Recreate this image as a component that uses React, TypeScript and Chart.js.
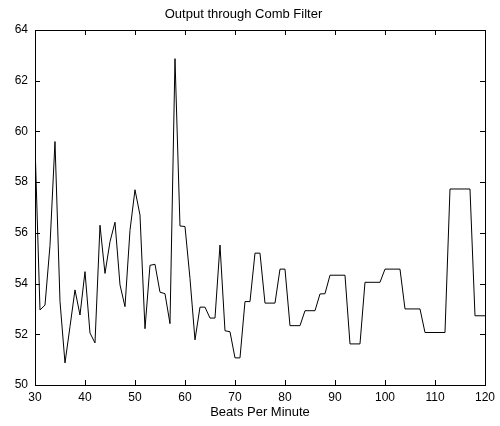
import React, { useEffect, useRef } from "react";
import { Chart, registerables } from "chart.js";

Chart.register(...registerables);

const bpm = [
  30, 31, 32, 33, 34, 35, 36, 37, 38, 39,
  40, 41, 42, 43, 44, 45, 46, 47, 48, 49,
  50, 51, 52, 53, 54, 55, 56, 57, 58, 59,
  60, 61, 62, 63, 64, 65, 66, 67, 68, 69,
  70, 71, 72, 73, 74, 75, 76, 77, 78, 79,
  80, 81, 82, 83, 84, 85, 86, 87, 88, 89,
  90, 91, 92, 93, 94, 95, 96, 97, 98, 99,
  100, 101, 102, 103, 104, 105, 106, 107, 108, 109,
  110, 111, 112, 113, 114, 115, 116, 117, 118, 119,
  120,
];

const output = [
  59.5, 52.96, 53.15, 55.5, 59.6, 53.3, 50.87, 52.3, 53.75, 52.76,
  54.47, 52.05, 51.66, 56.3, 54.4, 55.65, 56.42, 53.95, 53.09, 56.1,
  57.7, 56.7, 52.22, 54.72, 54.76, 53.66, 53.6, 52.42, 62.87, 56.27,
  56.25, 54.2, 51.78, 53.07, 53.07, 52.64, 52.64, 55.52, 52.14, 52.1,
  51.07, 51.07, 53.29, 53.29, 55.2, 55.2, 53.23, 53.23, 53.23, 54.57,
  54.57, 52.34, 52.34, 52.34, 52.93, 52.93, 52.93, 53.59, 53.6, 54.33,
  54.33, 54.33, 54.33, 51.62, 51.62, 51.62, 54.05, 54.05, 54.05, 54.05,
  54.57, 54.57, 54.57, 54.57, 53.0, 53.0, 53.0, 53.0, 52.07, 52.07,
  52.07, 52.07, 52.07, 57.73, 57.73, 57.73, 57.73, 57.73, 52.73, 52.73,
  52.73,
];

const xTicks = [30, 40, 50, 60, 70, 80, 90, 100, 110, 120];
const yTicks = [50, 52, 54, 56, 58, 60, 62, 64];

const FONT = "'Liberation Sans', Arial, Helvetica, sans-serif";

const boxPlugin = {
  id: "matlabBox",
  afterDatasetsDraw(chart: any) {
    const { ctx, chartArea, scales } = chart;
    const { left, right, top, bottom } = chartArea;
    const len = 5;
    ctx.save();
    ctx.strokeStyle = "#000";
    ctx.lineWidth = 1;
    ctx.beginPath();
    xTicks.forEach((v) => {
      const x = Math.round(scales.x.getPixelForValue(v)) + 0.5;
      ctx.moveTo(x, bottom);
      ctx.lineTo(x, bottom - len);
      ctx.moveTo(x, top);
      ctx.lineTo(x, top + len);
    });
    yTicks.forEach((v) => {
      const y = Math.round(scales.y.getPixelForValue(v)) + 0.5;
      ctx.moveTo(left, y);
      ctx.lineTo(left + len, y);
      ctx.moveTo(right, y);
      ctx.lineTo(right - len, y);
    });
    ctx.stroke();
    ctx.strokeRect(
      Math.round(left) + 0.5,
      Math.round(top) + 0.5,
      Math.round(right - left),
      Math.round(bottom - top)
    );
    ctx.restore();
  },
};

export default function App() {
  const ref = useRef<HTMLCanvasElement | null>(null);

  useEffect(() => {
    if (!ref.current) return;
    const chart = new Chart(ref.current, {
      type: "line",
      data: {
        datasets: [
          {
            data: bpm.map((b, i) => ({ x: b, y: output[i] })),
            borderColor: "#000",
            borderWidth: 1,
            pointRadius: 0,
            tension: 0,
            fill: false,
          },
        ],
      },
      options: {
        animation: false,
        responsive: false,
        devicePixelRatio: 1,
        layout: { padding: { left: 0, right: 13, top: 0, bottom: 0 } },
        plugins: {
          legend: { display: false },
          tooltip: { enabled: false },
          title: {
            display: true,
            text: "Output through Comb Filter",
            color: "#000",
            font: { family: FONT, size: 13, weight: "normal" },
            padding: { top: 7, bottom: 7.4 },
          },
        },
        scales: {
          x: {
            type: "linear",
            min: 30,
            max: 120,
            afterFit: (s: any) => {
              s.height = 41;
            },
            afterBuildTicks: (s: any) => {
              s.ticks = xTicks.map((v) => ({ value: v }));
            },
            grid: { display: false, drawTicks: false },
            border: { display: false },
            ticks: {
              color: "#000",
              font: { family: FONT, size: 12 },
              padding: 5,
              maxRotation: 0,
              autoSkip: false,
            },
            title: {
              display: true,
              text: "Beats Per Minute",
              color: "#000",
              font: { family: FONT, size: 13 },
              padding: { top: 0, bottom: 6 },
            },
          },
          y: {
            type: "linear",
            min: 50,
            max: 64,
            afterFit: (s: any) => {
              s.width = 35;
            },
            afterBuildTicks: (s: any) => {
              s.ticks = yTicks.map((v) => ({ value: v }));
            },
            grid: { display: false, drawTicks: false },
            border: { display: false },
            ticks: {
              color: "#000",
              font: { family: FONT, size: 12 },
              padding: 7,
              autoSkip: false,
            },
          },
        },
      },
      plugins: [boxPlugin],
    });
    return () => chart.destroy();
  }, []);

  return (
    <div
      style={{
        position: "absolute",
        left: 0,
        top: 0,
        width: 500,
        height: 426,
        background: "#fff",
      }}
    >
      <canvas ref={ref} width={500} height={426} />
    </div>
  );
}
